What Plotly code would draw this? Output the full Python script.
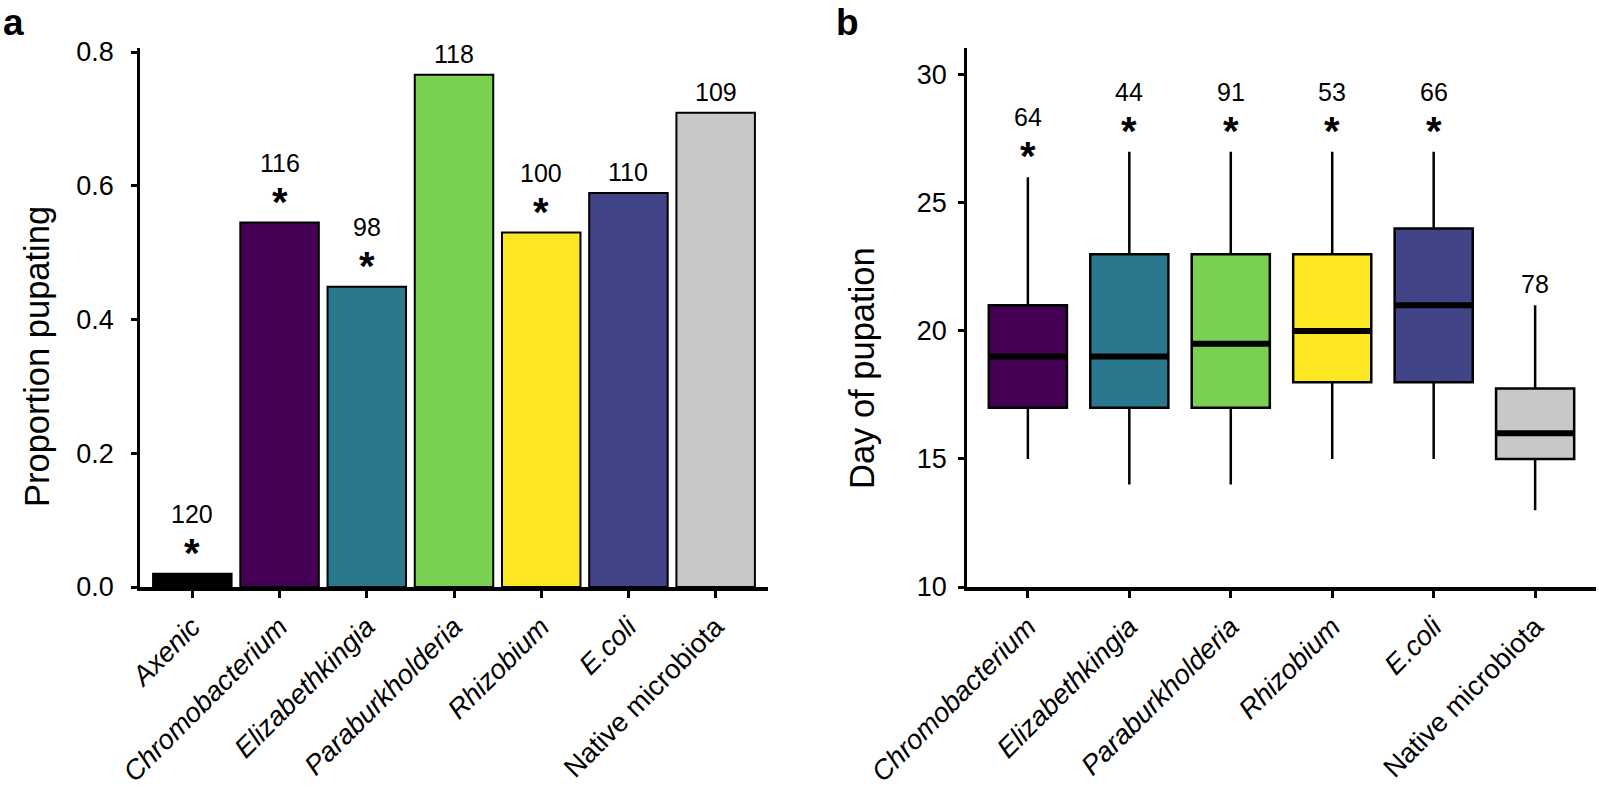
import plotly.graph_objects as go

# ---------------- data ----------------
groups_a = ["Axenic", "Chromobacterium", "Elizabethkingia", "Paraburkholderia",
            "Rhizobium", "E.coli", "Native microbiota"]
italic_a = [True, True, True, True, True, True, False]
prop_pupating = [0.02, 0.545, 0.449, 0.766, 0.530, 0.589, 0.709]
n_a = ["120", "116", "98", "118", "100", "110", "109"]
sig_a = [True, True, True, False, True, False, False]
colors_a = ["#000000", "#440154", "#2A788E", "#7AD151", "#FDE725", "#414487", "#C8C8C8"]

groups_b = ["Chromobacterium", "Elizabethkingia", "Paraburkholderia",
            "Rhizobium", "E.coli", "Native microbiota"]
italic_b = [True, True, True, True, True, False]
q1_b = [17, 17, 17, 18, 18, 15]
median_b = [19, 19, 19.5, 20, 21, 16]
q3_b = [21, 23, 23, 23, 24, 17.75]
low_b = [15, 14, 14, 15, 15, 13]
high_b = [26, 27, 27, 27, 27, 21]
n_b = ["64", "44", "91", "53", "66", "78"]
sig_b = [True, True, True, True, True, False]
colors_b = ["#440154", "#2A788E", "#7AD151", "#FDE725", "#414487", "#C8C8C8"]

yticks_a = [0.0, 0.2, 0.4, 0.6, 0.8]
yticks_b = [10, 15, 20, 25, 30]

# ---------------- layout helpers ----------------
W, H = 1599, 788
FONT = "Arial, Liberation Sans, Helvetica, sans-serif"


def px(x):
    return x / W


def py(y):
    return 1 - y / H


def lab(name, it):
    return f"<i>{name}</i>" if it else name


fig = go.Figure()

# Panel a bars
fig.add_trace(go.Bar(
    x=list(range(len(groups_a))), y=prop_pupating, width=0.9,
    marker=dict(color=colors_a, line=dict(color="black", width=2)),
    xaxis="x", yaxis="y", showlegend=False, hoverinfo="y"))

# Panel b boxes
BOXW = 0.77
for i in range(len(groups_b)):
    fig.add_trace(go.Box(
        x=[i], q1=[q1_b[i]], median=[median_b[i]], q3=[q3_b[i]],
        lowerfence=[low_b[i]], upperfence=[high_b[i]],
        width=BOXW, whiskerwidth=0, fillcolor=colors_b[i],
        line=dict(color="black", width=2.5), boxpoints=False,
        xaxis="x2", yaxis="y2", showlegend=False))

# thick median lines
mx, my = [], []
for i, m in enumerate(median_b):
    mx += [i - BOXW / 2, i + BOXW / 2, None]
    my += [m, m, None]
fig.add_trace(go.Scatter(x=mx, y=my, mode="lines",
                         line=dict(color="black", width=6),
                         xaxis="x2", yaxis="y2", showlegend=False,
                         hoverinfo="skip"))

annotations = []
NUM_SIZE = 25
AST_SIZE = 40


def add_labels(xref, yref, xs, tops, ns, sigs):
    for x, t, n, s in zip(xs, tops, ns, sigs):
        if s:
            annotations.append(dict(x=x, y=t, xref=xref, yref=yref, text="<b>*</b>",
                                    showarrow=False, yanchor="middle",
                                    yshift=30 - 9,
                                    font=dict(family=FONT, size=AST_SIZE, color="black")))
            annotations.append(dict(x=x, y=t, xref=xref, yref=yref, text=n,
                                    showarrow=False, yanchor="middle", yshift=60,
                                    font=dict(family=FONT, size=NUM_SIZE, color="black")))
        else:
            annotations.append(dict(x=x, y=t, xref=xref, yref=yref, text=n,
                                    showarrow=False, yanchor="middle", yshift=21,
                                    font=dict(family=FONT, size=NUM_SIZE, color="black")))


add_labels("x", "y", list(range(len(groups_a))), prop_pupating, n_a, sig_a)
add_labels("x2", "y2", list(range(len(groups_b))), high_b, n_b, sig_b)

# axis titles
annotations.append(dict(x=px(37), y=py(357), xref="paper", yref="paper",
                        text="Proportion pupating", textangle=-90, showarrow=False,
                        xanchor="center", yanchor="middle",
                        font=dict(family=FONT, size=34.5, color="black")))
annotations.append(dict(x=px(862), y=py(368), xref="paper", yref="paper",
                        text="Day of pupation", textangle=-90, showarrow=False,
                        xanchor="center", yanchor="middle",
                        font=dict(family=FONT, size=34.5, color="black")))
# panel letters
annotations.append(dict(x=px(1), y=py(45), xref="paper", yref="paper",
                        text="<b>a</b>", showarrow=False, xanchor="left", yanchor="bottom",
                        font=dict(family=FONT, size=37, color="black")))
annotations.append(dict(x=px(834), y=py(45), xref="paper", yref="paper",
                        text="<b>b</b>", showarrow=False, xanchor="left", yanchor="bottom",
                        font=dict(family=FONT, size=37, color="black")))

axis_common = dict(showline=True, linecolor="black", ticks="outside",
                   tickcolor="black", showgrid=False, zeroline=False,
                   automargin=False)
yfont = dict(family=FONT, size=27, color="black")
xfont = dict(family=FONT, size=27.5, color="black")

fig.update_layout(
    width=W, height=H,
    margin=dict(l=0, r=0, t=0, b=0, autoexpand=False),
    paper_bgcolor="white", plot_bgcolor="white",
    showlegend=False,
    annotations=annotations,
    xaxis=dict(domain=[px(140), px(768)], range=[-0.6, 6.6], anchor="y",
               tickvals=list(range(len(groups_a))),
               ticktext=[lab(g, it) for g, it in zip(groups_a, italic_a)],
               tickangle=-45, linewidth=3.5, ticklen=7, tickwidth=2.5,
               ticklabelstandoff=2, tickfont=xfont, **axis_common),
    yaxis=dict(domain=[py(587), py(48)], range=[0, 0.806], anchor="x",
               tickvals=yticks_a, ticktext=[f"{v:.1f}" for v in yticks_a],
               linewidth=2.5, ticklen=6, tickwidth=2.5, ticklabelstandoff=12,
               tickfont=yfont, **axis_common),
    xaxis2=dict(domain=[px(967), px(1596)], range=[-0.6, 5.6], anchor="y2",
                tickvals=list(range(len(groups_b))),
                ticktext=[lab(g, it) for g, it in zip(groups_b, italic_b)],
                tickangle=-45, linewidth=3.5, ticklen=7, tickwidth=2.5,
                ticklabelstandoff=2, tickfont=xfont, **axis_common),
    yaxis2=dict(domain=[py(587), py(48)], range=[10, 31.05], anchor="x2",
                tickvals=yticks_b, ticktext=[str(v) for v in yticks_b],
                linewidth=2.5, ticklen=6, tickwidth=2.5, ticklabelstandoff=6,
                tickfont=yfont, **axis_common),
)

fig.write_html("out.html",
               config={"displayModeBar": False},
               post_script="document.body.style.margin='0';"
                           "document.body.style.overflow='hidden';")
